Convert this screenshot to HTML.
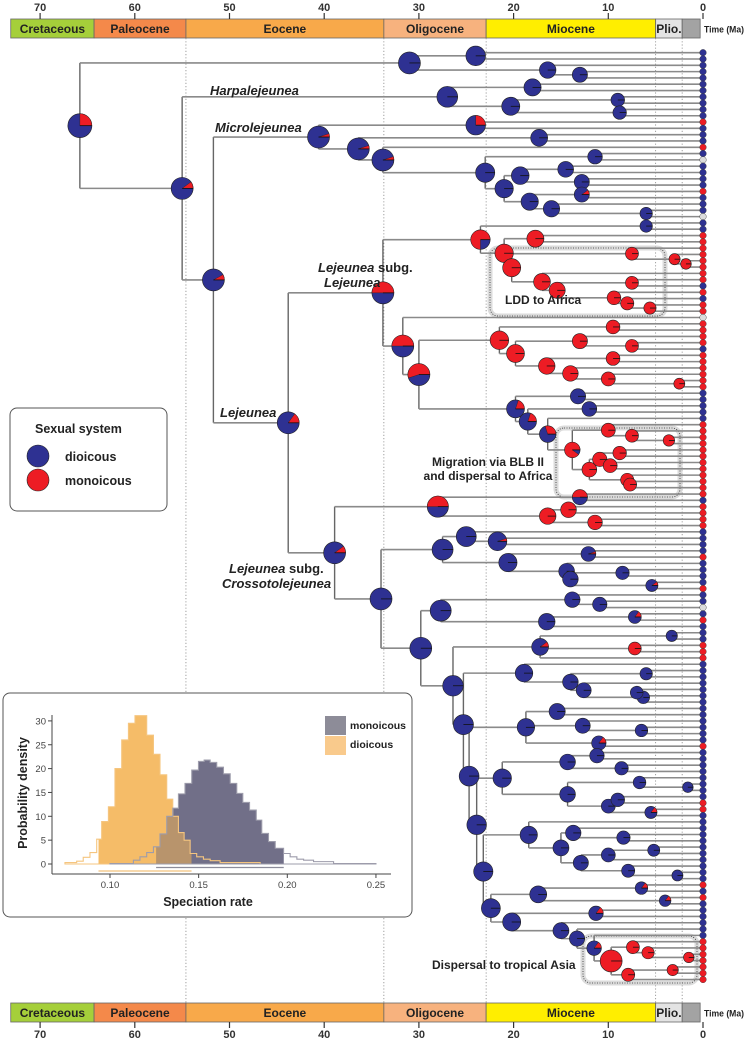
<!DOCTYPE html>
<html><head><meta charset="utf-8"><style>
html,body{margin:0;padding:0;background:#fff;}
svg{display:block;font-family:"Liberation Sans",sans-serif;}
</style></head><body>
<svg id="chart" xmlns="http://www.w3.org/2000/svg" width="745" height="1043" viewBox="0 0 745 1043">
<g id="topbar"></g>
<g id="botbar"></g>
<g id="grid"></g>
<g id="boxes">
 <rect x="490" y="248" width="175" height="68" rx="8" fill="none" stroke="#ccc" stroke-width="5" opacity="0.7"/>
 <rect x="490" y="248" width="175" height="68" rx="8" fill="none" stroke="#333" stroke-width="0.8" stroke-dasharray="1,1.5"/>
 <rect x="556" y="428" width="124" height="69" rx="8" fill="none" stroke="#ccc" stroke-width="5" opacity="0.7"/>
 <rect x="556" y="428" width="124" height="69" rx="8" fill="none" stroke="#333" stroke-width="0.8" stroke-dasharray="1,1.5"/>
 <rect x="583" y="936" width="114" height="47" rx="8" fill="none" stroke="#ccc" stroke-width="5" opacity="0.7"/>
 <rect x="583" y="936" width="114" height="47" rx="8" fill="none" stroke="#333" stroke-width="0.8" stroke-dasharray="1,1.5"/>
</g>
<g id="tree"></g>
<g font-weight="bold" fill="#222">
 <text x="210" y="95" font-size="13" font-style="italic">Harpalejeunea</text>
 <text x="215" y="132" font-size="13" font-style="italic">Microlejeunea</text>
 <text x="318" y="272" font-size="13"><tspan font-style="italic">Lejeunea</tspan> subg.</text>
 <text x="324" y="287" font-size="13" font-style="italic">Lejeunea</text>
 <text x="220" y="417" font-size="13" font-style="italic">Lejeunea</text>
 <text x="229" y="573" font-size="13"><tspan font-style="italic">Lejeunea</tspan> subg.</text>
 <text x="222" y="588" font-size="13" font-style="italic">Crossotolejeunea</text>
 <text x="505" y="304" font-size="12">LDD to Africa</text>
 <text x="488" y="466" font-size="12" text-anchor="middle">Migration via BLB II</text>
 <text x="488" y="480" font-size="12" text-anchor="middle">and dispersal to Africa</text>
 <text x="432" y="969" font-size="12">Dispersal to tropical Asia</text>
</g>
<g>
 <rect x="10" y="408" width="157" height="103" rx="7" fill="#fff" stroke="#555" stroke-width="1"/>
 <text x="35" y="433" font-size="12.5" font-weight="bold" fill="#222">Sexual system</text>
 <circle cx="38" cy="456" r="11" fill="#2e3192" stroke="#222" stroke-width="0.6"/>
 <circle cx="38" cy="480" r="11" fill="#ed1c24" stroke="#222" stroke-width="0.6"/>
 <text x="65" y="461" font-size="12.5" font-weight="bold" fill="#222">dioicous</text>
 <text x="65" y="485" font-size="12.5" font-weight="bold" fill="#222">monoicous</text>
</g>
<g id="inset">
 <rect x="3" y="693" width="409" height="224" rx="7" fill="#fff" stroke="#555" stroke-width="1"/>
</g>
</svg>
<script>
const NS='http://www.w3.org/2000/svg';
// ---------- timescale data ----------
const tickAges=[70,60,50,40,30,20,10,0];
const epochNames=['Cretaceous','Paleocene','Eocene','Oligocene','Miocene','Plio.',''];
const epochStart=[73.1,64.3,54.6,33.7,22.9,5.0,2.2];
const epochEnd=[64.3,54.6,33.7,22.9,5.0,2.2,0.3];
const epochColors=['#a5cf3a','#f4894a','#f8a94a','#f7b27e','#ffee00','#e3e3e3','#a3a3a3'];
const gridAges=[54.6,33.7,22.9,5.0,2.2];
// ---------- histogram data ----------
const dioEdges=[0.0746,0.0812,0.0849,0.0887,0.0925,0.0953,0.0991,0.1028,0.1066,0.1104,0.1141,0.1207,0.1245,0.1282,0.1320,0.1354,0.1386,0.1418,0.1452,0.1489,0.1527,0.1565,0.1621,0.1847];
const dioDens=[0.3,0.6,1.4,2.4,5.2,8.9,12,20,26,29.5,31.1,27,23,18.7,13.6,10,6.6,5,2.2,1.5,1,0.7,0.3];
const monEdges=[0.1000,0.1132,0.1169,0.1207,0.1245,0.1282,0.1320,0.1354,0.1386,0.1423,0.1461,0.1499,0.1531,0.1565,0.1602,0.1640,0.1678,0.1715,0.1749,0.1787,0.1825,0.1856,0.1894,0.1932,0.1979,0.2016,0.2054,0.2092,0.2148,0.2261,0.2500];
const monDens=[0.1,0.8,1.5,2.4,3.6,6.3,10,11.7,14.7,16.9,19.7,21.5,21.8,21.3,20.3,18.9,16.9,14.8,12.9,11.3,9.2,6.4,4.7,3.3,2.2,1.5,1,0.8,0.5,0.1];
const dioHPD=[0.0935,0.146];
const monHPD=[0.126,0.198];
const xTicks=[0.10,0.15,0.20,0.25];
const yTicks=[0,5,10,15,20,25,30];

function N(a,p,s,c){return {a:a,p:p,s:s,c:c};}
const ASIA=N(11.5,.15,0,['b',N(9.7,1,11,[N(7.4,1,0,['r',N(5.8,1,0,['r',N(1.5,1,0,['r','r'])])]),N(7.9,1,0,[N(3.2,1,0,['r','r']),'r'])])]);
const LDD=N(20.2,1,0,[N(7.5,1,0,['r',N(3,1,0,['r',N(1.8,1,0,['r','r'])])]),N(17,1,0,['r',N(15.4,1,0,[N(7.5,1,0,['r','b']),N(9.4,1,0,['r',N(8,1,0,['b',N(5.6,1,0,['r','r'])])])])])]);
const BLB=N(19.8,.2,0,[N(13.2,0,0,['b','b']),N(18.5,.2,0,[N(12,0,0,['b','b']),N(16.4,.3,0,['b',N(13.8,.9,0,[N(10,1,0,['r',N(7.5,1,0,['r',N(3.6,1,0,['r','r'])])]),N(12,1,0,[N(10.9,1,0,[N(8.8,1,0,['r','r']),N(9.8,1,0,['r','r'])]),N(8,1,0,['r',N(7.7,1,0,['r','r'])])])])])])]);
const SUBGLEJ=N(33.8,.5,0,[
 N(23.5,.75,0,[N(6,0,0,['b','b']),N(21,1,0,[N(17.7,1,0,['r','r']),LDD])]),
 N(31.7,.5,0,['g',N(30,.55,0,[N(21.5,1,0,[N(9.5,1,0,['r','r']),N(19.8,1,0,[N(13,1,0,['r',N(7.5,1,0,['r','b'])]),N(16.5,1,0,[N(9.5,1,0,['r','r']),N(14,1,0,['r',N(10,1,0,['r',N(2.5,1,0,['r','r'])])])])])]),BLB])])]);
const CROSS=N(38.9,.1,0,[
 N(28,.5,0,[N(13,.5,0,['r','b']),N(16.4,1,0,[N(14.2,1,0,['r','r']),N(11.4,1,0,['r','r'])])]),
 N(34,0,0,[
  N(27.5,0,0,[N(25,0,0,['b',N(21.7,.05,0,['b','b'])]),N(20.6,0,0,[N(12.1,.05,0,['b','r']),N(14.4,0,0,['b',N(14,0,0,[N(8.5,0,0,['b','b']),N(5.4,.1,0,['b','r'])])])])]),
  N(29.8,0,0,[
   N(27.7,0,0,[N(13.8,0,0,['b',N(10.9,0,0,['b','g'])]),N(16.5,0,0,[N(7.2,.15,0,['b','r']),'b'])]),
   N(26.4,0,0,[
    N(17.2,.1,0,[N(3.3,0,0,['b','b']),N(7.2,1,0,['r','r']),'r']),
    N(25.3,0,0,[
     N(18.9,0,0,['b',N(14,0,0,[N(6,0,0,['b','b']),N(12.6,0,0,['b',N(6.3,0,0,[N(7,0,0,['b','b']),'b'])])])]),
     N(24.7,0,0,[
      N(18.7,0,0,[N(15.4,0,0,['b','b']),N(12.7,0,0,['b',N(6.5,0,0,['b','b'])]),N(11,.15,0,['b','r'])]),
      N(23.9,0,0,[
       N(21.2,0,0,[N(14.3,0,0,[N(11.2,0,0,['b','b']),N(8.6,0,0,['b','b'])]),N(14.3,0,0,[N(6.7,0,0,['b',N(1.6,0,0,['b','b'])]),N(10,0,0,[N(9,0,0,['b','r']),N(5.5,.15,0,['r','b'])])])]),
       N(23.2,0,0,[
        N(18.4,0,0,['b',N(15,0,0,[N(13.7,0,0,['b',N(8.4,0,0,['b','b'])]),N(12.9,0,0,[N(10,0,0,[N(5.2,0,0,['b','b']),'b']),N(7.9,0,0,['b',N(2.7,0,0,['b','b'])])])])]),
        N(22.4,0,0,[
         N(17.4,0,0,[N(6.5,.15,0,['r','b']),N(4,.15,0,['r','b'])]),
         N(20.2,0,0,[N(11.3,.15,0,['b','b']),N(15,0,0,['b',N(13.3,0,0,['b',ASIA])])])
        ])])])])])])])])]);
const TREE=N(65.8,.25,12,[
 N(31,0,0,[N(24,0,0,['b','b']),N(16.4,0,0,['b',N(13,0,0,['b','b'])])]),
 N(55,.1,0,[
  N(27,0,0,[N(18,0,0,['b','b']),N(20.3,0,0,[N(9,0,0,['b','b']),N(8.8,0,0,['b','b'])])]),
  N(51.7,.08,0,[
   N(40.6,.05,0,[N(24,.25,0,['r','b']),N(36.4,.05,0,[N(17.3,0,0,['b','b']),N(33.8,.05,0,['r',N(23,0,0,[N(11.4,0,0,['b','g']),N(21,0,0,[N(19.3,0,0,[N(14.5,0,0,['b','b']),N(12.8,0,0,['b','b'])]),N(18.3,0,0,[N(12.8,.1,0,['r','b']),N(16,0,0,['b',N(6,0,0,['b','g'])])])])])])])]),
   N(43.8,.15,0,[SUBGLEJ,CROSS])
  ])
 ])
]);

const svg=document.getElementById('chart');
function mk(tag,attrs,parent){const e=document.createElementNS(NS,tag);for(const k in attrs)e.setAttribute(k,attrs[k]);parent.appendChild(e);return e;}
function ax(age){return 703-age*9.47;}

// ---------- timescales ----------
function drawBar(g,y0,h,labY,tickY0,tickY1){
 for(let i=0;i<epochNames.length;i++){
  const x0=ax(epochStart[i]),x1=ax(epochEnd[i]);
  const r=mk('rect',{x:x0,y:y0,width:x1-x0,height:h,fill:epochColors[i],stroke:'#666','stroke-width':0.8},g);
  
  
  if(epochNames[i]){
   const t=mk('text',{x:(x0+x1)/2,y:y0+h/2+4.5,'font-size':12,'font-weight':'bold','text-anchor':'middle',fill:'#222'},g);
   t.textContent=epochNames[i];
   
   
  }
 }
 const tl=mk('text',{x:704,y:y0+h/2+4,'font-size':9.5,'font-weight':'bold',fill:'#222',textLength:40,lengthAdjust:'spacingAndGlyphs'},g);
 tl.textContent='Time (Ma)';
 
 
 for(const a of tickAges){
  const l=mk('line',{x1:ax(a),x2:ax(a),y1:tickY0,y2:tickY1,stroke:'#333','stroke-width':1.2},g);
  
  
  const t=mk('text',{x:ax(a),y:labY,'font-size':11,'font-weight':'bold','text-anchor':'middle',fill:'#333'},g);
  t.textContent=String(a);
  
  
 }
}
drawBar(document.getElementById('topbar'),19,19,11,13,19);
drawBar(document.getElementById('botbar'),1003,19,1038,1022,1028);
const grid=document.getElementById('grid');
for(const a of gridAges){
 const l=mk('line',{x1:ax(a),x2:ax(a),y1:38,y2:1003,stroke:'#888','stroke-width':0.8,'stroke-dasharray':'1.2,2'},grid);
 
 
}

// ---------- tree ----------
let tips=[];
function prep(n){
 if(typeof n==='string'){const t={tip:true,col:n};tips.push(t);return t;}
 n.c=n.c.map(prep);return n;
}
prep(TREE);
const step=(979.5-52.7)/(tips.length-1);
tips.forEach((t,i)=>{t.y=52.7+i*step;t.x=703;});
function place(n){
 if(n.tip)return n.y;
 n.c.forEach(place);
 n.x=ax(n.a);
 n.y=(n.c[0].y+n.c[n.c.length-1].y)/2;
 return n.y;
}
place(TREE);
const tree=document.getElementById('tree');
const gLines=mk('g',{},tree);


const gPies=mk('g',{},tree);


const gTips=mk('g',{},tree);


const nodes=[];
function drawLines(n){
 if(n.tip)return;
 nodes.push(n);
 const v=mk('line',{x1:n.x,x2:n.x,y1:n.c[0].y,y2:n.c[n.c.length-1].y,stroke:'#666','stroke-width':1.4},gLines);
 
 
 for(const c of n.c){
  const h=mk('line',{x1:n.x,x2:c.x,y1:c.y,y2:c.y,stroke:'#8a8a8a','stroke-width':1.6},gLines);
  
  
  drawLines(c);
 }
}
drawLines(TREE);
const BLUE='#2e3192',RED='#ed1c24';
function pie(cx,cy,r,f,g){
 const grp=mk('g',{},g);
 
 
 const base=mk('circle',{cx:cx,cy:cy,r:r,fill:f>=0.999?RED:BLUE,stroke:'#222','stroke-width':0.6},grp);
 
 
 if(f>0.001&&f<0.999){
  const th=f*2*Math.PI;
  const ex=cx+r*Math.cos(th),ey=cy-r*Math.sin(th);
  const w=mk('path',{d:`M${cx},${cy} L${cx+r},${cy} A${r},${r} 0 ${f>0.5?1:0} 0 ${ex},${ey} Z`,fill:RED,stroke:'#222','stroke-width':0.4},grp);
  
  
 }
 const ln=mk('line',{x1:cx,x2:cx+r,y1:cy,y2:cy,stroke:'#111','stroke-width':0.8},grp);
 
 
}
for(const n of nodes){
 const r=n.s||(5+Math.min(n.a,30)*0.2);
 pie(n.x,n.y,r,n.p,gPies);
}
const tipCol={b:BLUE,r:RED,g:'#dcdcdc'};
for(const t of tips){
 const c=mk('circle',{cx:703,cy:t.y,r:3.3,fill:tipCol[t.col],stroke:'#333','stroke-width':0.4},gTips);
 
 
}

// ---------- inset histogram ----------
const inset=document.getElementById('inset');
function hx(v){return 110+(v-0.10)*1773;}
function hy(d){return 864-d*4.77;}
function stepPath(edges,dens){
 let d=`M${hx(edges[0])},${hy(0)}`;
 for(let i=0;i<dens.length;i++){d+=` L${hx(edges[i])},${hy(dens[i])} L${hx(edges[i+1])},${hy(dens[i])}`;}
 d+=` L${hx(edges[edges.length-1])},${hy(0)} Z`;
 return d;
}
const defs=mk('defs',{},inset);
const cpD=mk('clipPath',{id:'cpD'},defs);
mk('rect',{x:hx(dioHPD[0]),y:700,width:hx(dioHPD[1])-hx(dioHPD[0]),height:170},cpD);
const cpM=mk('clipPath',{id:'cpM'},defs);
mk('rect',{x:hx(monHPD[0]),y:700,width:hx(monHPD[1])-hx(monHPD[0]),height:170},cpM);
const dFill=mk('path',{d:stepPath(dioEdges,dioDens),fill:'#f8c77e','clip-path':'url(#cpD)'},inset);


const mFill=mk('path',{d:stepPath(monEdges,monDens),fill:'#716f88','clip-path':'url(#cpM)'},inset);


const oFill=mk('path',{d:stepPath(dioEdges,dioDens),fill:'#f3b256',opacity:0.55,'clip-path':'url(#cpD)'},inset);


const dLine=mk('path',{d:stepPath(dioEdges,dioDens),fill:'none',stroke:'#f5c57f','stroke-width':1.1},inset);


const mLine=mk('path',{d:stepPath(monEdges,monDens),fill:'none',stroke:'#9d9cab','stroke-width':1.1},inset);


const hd=mk('line',{x1:hx(dioHPD[0]),x2:hx(dioHPD[1]),y1:871,y2:871,stroke:'#f2c27c','stroke-width':1.2},inset);


const hm=mk('line',{x1:hx(monHPD[0]),x2:hx(monHPD[1]),y1:867.5,y2:867.5,stroke:'#8c8c9a','stroke-width':1.2},inset);


const yAx=mk('line',{x1:52,x2:52,y1:715,y2:874,stroke:'#444','stroke-width':1},inset);


const xAx=mk('line',{x1:52,x2:391,y1:874,y2:874,stroke:'#444','stroke-width':1},inset);


for(const v of yTicks){
 const tk=mk('line',{x1:48,x2:52,y1:hy(v),y2:hy(v),stroke:'#444'},inset);
 
 
 const t=mk('text',{x:46,y:hy(v)+3.5,'font-size':9.5,'text-anchor':'end',fill:'#444'},inset);
 t.textContent=String(v);
 
 
}
for(const v of xTicks){
 const tk=mk('line',{x1:hx(v),x2:hx(v),y1:874,y2:878,stroke:'#444'},inset);
 
 
 const t=mk('text',{x:hx(v),y:888,'font-size':9.5,'text-anchor':'middle',fill:'#444'},inset);
 t.textContent=v.toFixed(2);
 
 
}
const xt=mk('text',{x:208,y:906,'font-size':12.5,'font-weight':'bold','text-anchor':'middle',fill:'#222'},inset);
xt.textContent='Speciation rate';


const yt=mk('text',{x:27,y:793,'font-size':12.5,'font-weight':'bold','text-anchor':'middle',fill:'#222',transform:'rotate(-90 27 793)'},inset);
yt.textContent='Probability density';


const s1=mk('rect',{x:325,y:716,width:21,height:19,fill:'#8d8c98'},inset);


const s2=mk('rect',{x:325,y:736,width:21,height:19,fill:'#f9ca8c'},inset);


const l1=mk('text',{x:350,y:729,'font-size':10.5,'font-weight':'bold',fill:'#222'},inset);
l1.textContent='monoicous';


const l2=mk('text',{x:350,y:748,'font-size':10.5,'font-weight':'bold',fill:'#222'},inset);
l2.textContent='dioicous';


</script>
</body></html>
